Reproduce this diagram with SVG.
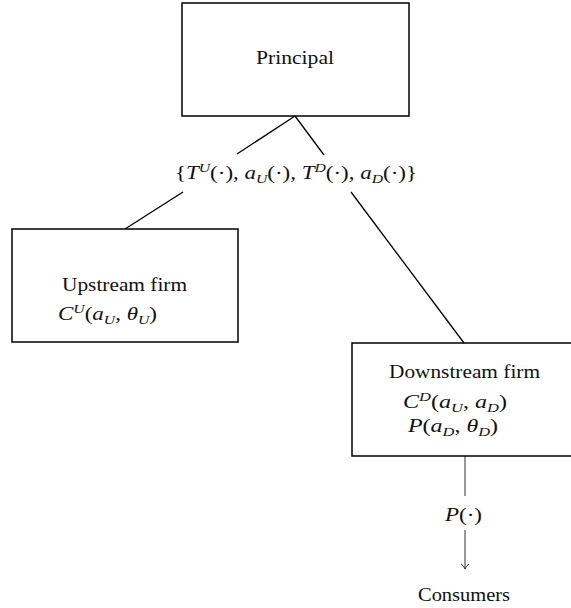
<svg xmlns="http://www.w3.org/2000/svg" width="571" height="608" viewBox="0 0 571 608">
<style>
text{font-family:"Liberation Serif","DejaVu Serif",serif;font-size:19px;fill:#111}
.box{fill:#fff;stroke:#000;stroke-width:1.5}
.ln{stroke:#000;stroke-width:1.3;fill:none}
.thin{stroke:#333;stroke-width:1;fill:none}
.i{font-style:italic}
.s{font-size:13px}
</style>
<rect width="571" height="608" fill="#fff"/>
<g id="connectors">
<line class="ln" x1="295" y1="116" x2="237" y2="154"/>
<line class="ln" x1="295" y1="116" x2="324" y2="155"/>
<line class="ln" x1="183" y1="192" x2="125" y2="229"/>
<line class="ln" x1="351" y1="192" x2="464" y2="343"/>
<line class="thin" x1="465" y1="456" x2="465" y2="496"/>
<line class="thin" x1="465" y1="530" x2="465" y2="569"/>
<path class="thin" d="M461,564 Q464,566 465,569 Q466,566 469,564"/>
<text x="175" y="179" textLength="242" lengthAdjust="spacingAndGlyphs">{<tspan class="i">T</tspan><tspan class="i s" dy="-7">U</tspan><tspan dy="7">(·), </tspan><tspan class="i">a</tspan><tspan class="i s" dy="4">U</tspan><tspan dy="-4">(·), </tspan><tspan class="i">T</tspan><tspan class="i s" dy="-7">D</tspan><tspan dy="7">(·), </tspan><tspan class="i">a</tspan><tspan class="i s" dy="4">D</tspan><tspan dy="-4">(·)}</tspan></text>
<text x="445" y="521" textLength="37" lengthAdjust="spacingAndGlyphs"><tspan class="i">P</tspan>(·)</text>
</g>
<g id="principal">
<rect class="box" x="182" y="3" width="227" height="113"/>
<text x="256" y="64" textLength="78" lengthAdjust="spacingAndGlyphs">Principal</text>
</g>
<g id="upstream">
<rect class="box" x="12" y="229" width="226" height="113"/>
<text x="62" y="291" textLength="125" lengthAdjust="spacingAndGlyphs">Upstream firm</text>
<text x="58" y="320" textLength="99" lengthAdjust="spacingAndGlyphs"><tspan class="i">C</tspan><tspan class="i s" dy="-7">U</tspan><tspan dy="7">(</tspan><tspan class="i">a</tspan><tspan class="i s" dy="4">U</tspan><tspan dy="-4">, </tspan><tspan class="i">θ</tspan><tspan class="i s" dy="4">U</tspan><tspan dy="-4">)</tspan></text>
</g>
<g id="downstream">
<rect class="box" x="352" y="343" width="220" height="113"/>
<text x="389" y="378" textLength="151" lengthAdjust="spacingAndGlyphs">Downstream firm</text>
<text x="403" y="408" textLength="104" lengthAdjust="spacingAndGlyphs"><tspan class="i">C</tspan><tspan class="i s" dy="-7">D</tspan><tspan dy="7">(</tspan><tspan class="i">a</tspan><tspan class="i s" dy="4">U</tspan><tspan dy="-4">, </tspan><tspan class="i">a</tspan><tspan class="i s" dy="4">D</tspan><tspan dy="-4">)</tspan></text>
<text x="408" y="432" textLength="90" lengthAdjust="spacingAndGlyphs"><tspan class="i">P</tspan>(<tspan class="i">a</tspan><tspan class="i s" dy="4">D</tspan><tspan dy="-4">, </tspan><tspan class="i">θ</tspan><tspan class="i s" dy="4">D</tspan><tspan dy="-4">)</tspan></text>
</g>
<g id="consumers">
<text x="418" y="601" textLength="92" lengthAdjust="spacingAndGlyphs">Consumers</text>
</g>
</svg>
